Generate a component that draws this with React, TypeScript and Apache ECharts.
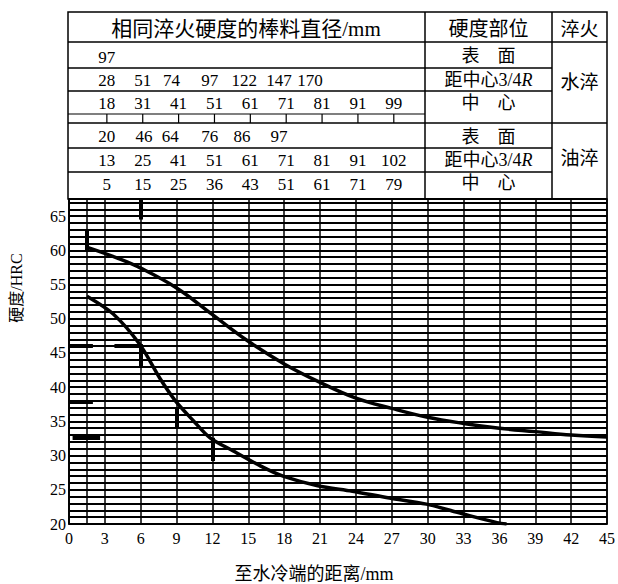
import { useEffect, useRef } from "react";
import * as echarts from "echarts";

const FONT = "'Liberation Serif', 'Noto Sans CJK SC', serif";

// axes
const xMin = 0;
const xMax = 45;
const xStep = 3;
const yMin = 20;
const yMax = 67.5;
const yLabelStep = 5;

// hardenability band (distance from quenched end, mm / HRC)
const upperDist = [1.6, 4, 6, 9, 12, 15, 18, 21, 24, 27, 30, 33, 36, 39, 42, 45];
const upperHRC = [60.4, 58.9, 57.4, 54.5, 50.6, 46.7, 43.4, 40.7, 38.4, 36.9, 35.6, 34.7, 34.0, 33.5, 33.0, 32.7];
const lowerDist = [1.5, 3.7, 5.9, 7.6, 8.9, 10.4, 11.8, 13.7, 16.0, 17.9, 20.8, 23.7, 26.8, 29.9, 32.9, 35.8, 36.6];
const lowerHRC = [53.3, 50.7, 46.3, 41.3, 38.0, 35.1, 32.6, 30.7, 28.5, 27.0, 25.6, 24.8, 23.8, 22.9, 21.5, 20.2, 20.0];

// short thick marks on the chart: [x1, y1, x2, y2]
const markSegs = [
  [6, 64.5, 6, 67.5],
  [1.5, 60, 1.5, 63],
  [6, 42.8, 6, 46.3],
  [9, 34, 9, 37],
  [12, 29.2, 12, 32.6],
  [0, 46, 2, 46],
  [3.8, 46, 6, 46],
  [0, 37.8, 2, 37.8],
  [0.3, 32.6, 2.6, 32.6],
];
const extraGridX = [1.5];

// table: bar diameters with same hardness (mm), placed at Jominy distance (mm)
const waterSurfaceAt = [3];
const waterSurface = ["97"];
const water34At = [3, 6, 8.4, 11.6, 14.5, 17.4, 20];
const water34 = ["28", "51", "74", "97", "122", "147", "170"];
const waterCenterAt = [3, 6, 9, 12, 15, 18, 21, 24, 27];
const waterCenter = ["18", "31", "41", "51", "61", "71", "81", "91", "99"];
const oilSurfaceAt = [3, 6.1, 8.3, 11.6, 14.3, 17.4];
const oilSurface = ["20", "46", "64", "76", "86", "97"];
const oil34At = [3, 6, 9, 12, 15, 18, 21, 24, 27];
const oil34 = ["13", "25", "41", "51", "61", "71", "81", "91", "102"];
const oilCenterAt = [3, 6, 9, 12, 15, 18, 21, 24, 27];
const oilCenter = ["5", "15", "25", "36", "43", "51", "61", "71", "79"];

const tableTitle = "相同淬火硬度的棒料直径/mm";
const posTitle = "硬度部位";
const quenchTitle = "淬火";
const positions = ["表　面", "距中心3/4{i|R}", "中　心"];
const quenchWater = "水淬";
const quenchOil = "油淬";
const xName = "至水冷端的距离/mm";
const yName = "硬度/HRC";

export default function App() {
  const ref = useRef<HTMLDivElement>(null);
  useEffect(() => {
    if (!ref.current) return;
    const chart = echarts.init(ref.current, null, { renderer: "svg" });
    const upper = upperDist.map((d, i) => [d, upperHRC[i]]);
    const lower = lowerDist.map((d, i) => [d, lowerHRC[i]]);
    chart.setOption({
      animation: false,
      backgroundColor: "#fff",
      grid: { left: 69, right: 11, top: 199, bottom: 60, show: true, borderColor: "#000", borderWidth: 1.5 },
      xAxis: {
        type: "value",
        min: xMin,
        max: xMax,
        interval: xStep,
        axisLine: { show: true, lineStyle: { color: "#000", width: 1.5 } },
        axisTick: { show: false },
        axisLabel: { color: "#000", fontSize: 16, fontFamily: FONT, margin: 6 },
        splitLine: { show: true, lineStyle: { color: "#000", width: 1.5 } },
      },
      yAxis: {
        type: "value",
        min: yMin,
        max: yMax,
        interval: 1,
        axisLine: { show: true, lineStyle: { color: "#000", width: 1.5 } },
        axisTick: { show: false },
        axisLabel: {
          color: "#000",
          fontSize: 16,
          fontFamily: FONT,
          margin: 3,
          formatter: (v: number) => (v % yLabelStep === 0 ? String(v) : ""),
        },
        splitLine: { show: true, lineStyle: { color: "#000", width: 1.8 } },
      },
      series: [
        {
          type: "lines",
          coordinateSystem: "cartesian2d",
          silent: true,
          lineStyle: { color: "#000", width: 1.5, opacity: 1 },
          data: extraGridX.map((x) => ({ coords: [[x, yMin], [x, yMax]] })),
        },
        {
          type: "lines",
          coordinateSystem: "cartesian2d",
          silent: true,
          lineStyle: { color: "#000", width: 4, opacity: 1 },
          data: markSegs.map((s) => ({ coords: [[s[0], s[1]], [s[2], s[3]]] })),
        },
        {
          type: "line",
          data: upper,
          smooth: 0.4,
          showSymbol: false,
          lineStyle: { color: "#000", width: 3.5 },
        },
        {
          type: "line",
          data: lower,
          smooth: 0.3,
          showSymbol: false,
          lineStyle: { color: "#000", width: 3.5 },
        },
      ],
    });

    const px = (mm: number) => chart.convertToPixel({ xAxisIndex: 0 }, mm) as number;
    const g: any[] = [];
    const line = (x1: number, y1: number, x2: number, y2: number, w = 1.5) =>
      g.push({ type: "line", silent: true, shape: { x1, y1, x2, y2 }, style: { stroke: "#000", lineWidth: w } });
    const text = (x: number, y: number, t: string, size: number, extra: any = {}) =>
      g.push({
        type: "text",
        x,
        y,
        silent: true,
        style: {
          text: t,
          fontSize: size,
          fontFamily: FONT,
          fill: "#000",
          align: "center",
          verticalAlign: "middle",
          rich: { i: { fontStyle: "italic", fontSize: size, fontFamily: FONT, fill: "#000" } },
          ...extra,
        },
      });

    const L = 68, R = 607, T = 12, B = 199, C1 = 425, C2 = 552;
    g.push({ type: "rect", silent: true, shape: { x: L, y: T, width: R - L, height: B - T }, style: { fill: "none", stroke: "#000", lineWidth: 1.5 } });
    line(C1, T, C1, B);
    line(C2, T, C2, B);
    line(L, 42, R, 42);
    line(L, 68, C2, 68);
    line(L, 91, C2, 91);
    line(L, 114, C1, 114, 1.2);
    line(L, 123, R, 123);
    line(L, 148, C2, 148);
    line(L, 172, C2, 172);
    waterCenterAt.forEach((d) => line(px(d) + 2, 114, px(d) + 2, 123, 1.2));

    text(246, 29, tableTitle, 21);
    text((C1 + C2) / 2, 29, posTitle, 20);
    text((C2 + R) / 2, 29, quenchTitle, 19);

    const rows: [number[], string[], number][] = [
      [waterSurfaceAt, waterSurface, 57],
      [water34At, water34, 80],
      [waterCenterAt, waterCenter, 103],
      [oilSurfaceAt, oilSurface, 136],
      [oil34At, oil34, 160],
      [oilCenterAt, oilCenter, 184],
    ];
    rows.forEach(([at, vals, y]) => vals.forEach((v, i) => text(px(at[i]) + 2, y, v, 17)));

    const posY = [56, 80, 103, 137, 160, 183];
    posY.forEach((y, i) => text((C1 + C2) / 2, y, positions[i % 3], 18));
    text((C2 + R) / 2, 82, quenchWater, 19);
    text((C2 + R) / 2, 158, quenchOil, 19);

    text(16, 288, yName, 16, {});
    g[g.length - 1].rotation = Math.PI / 2;
    text(314, 574, xName, 18);

    chart.setOption({ graphic: { elements: g } });
    return () => chart.dispose();
  }, []);
  return (
    <div
      ref={ref}
      style={{ position: "fixed", left: 0, top: 0, width: 618, height: 584, background: "#fff" }}
    />
  );
}
